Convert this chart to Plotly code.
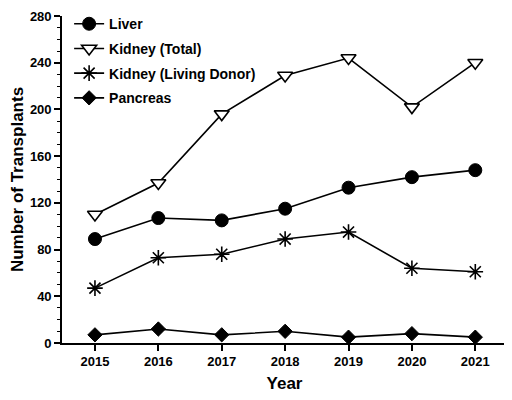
import plotly.graph_objects as go

years = [2015, 2016, 2017, 2018, 2019, 2020, 2021]
liver = [89, 107, 105, 115, 133, 142, 148]
kidney_total = [110, 137, 196, 229, 244, 202, 240]
kidney_living = [47, 73, 76, 89, 95, 64, 61]
pancreas = [7, 12, 7, 10, 5, 8, 5]
y_ticks = [0, 40, 80, 120, 160, 200, 240, 280]

FONT = "Liberation Sans, Arial, sans-serif"

fig = go.Figure()
series = [
    ("Liver", liver, dict(symbol="circle", size=13, color="black", line=dict(color="black", width=1))),
    ("Kidney (Total)", kidney_total, dict(symbol="triangle-down", size=13, color="white", line=dict(color="black", width=1.6))),
    ("Kidney (Living Donor)", kidney_living, dict(symbol="asterisk-open", size=13, color="black", line=dict(color="black", width=1.6))),
    ("Pancreas", pancreas, dict(symbol="diamond", size=11, color="black", line=dict(color="black", width=1))),
]
for i, (name, vals, mk) in enumerate(series):
    fig.add_trace(go.Scatter(
        x=years, y=vals, name=name, mode="lines+markers",
        line=dict(color="black", width=1.6), marker=mk,
        legendgroup=f"g{i}",
    ))

# page body has an 8px default margin; margins compensate for it
fig.update_layout(
    width=512, height=400,
    margin=dict(l=54, r=13, t=8, b=65, autoexpand=False),
    paper_bgcolor="white", plot_bgcolor="white",
    font=dict(family=FONT, color="black", size=13, weight="bold"),
    showlegend=True,
    legend=dict(x=0.016, y=1.024, xanchor="left", yanchor="top",
                bgcolor="rgba(0,0,0,0)", font=dict(size=14, weight="bold"),
                tracegroupgap=3.5),
    xaxis=dict(
        range=[2014.48, 2021.5], tickvals=years, ticktext=[str(y) for y in years],
        showline=True, linecolor="black", linewidth=1.6, ticks="outside",
        ticklen=6, tickwidth=1.6, tickcolor="black", showgrid=False, zeroline=False,
        tickfont=dict(size=13, weight="bold"), automargin=False,
        title=dict(text="Year", font=dict(size=17, weight="bold"), standoff=9),
    ),
    yaxis=dict(
        range=[0, 280], tickvals=y_ticks,
        showline=True, linecolor="black", linewidth=1.6, ticks="outside",
        ticklen=6, tickwidth=1.6, tickcolor="black", showgrid=False, zeroline=False,
        tickfont=dict(size=13, weight="bold"), automargin=False,
        minor=dict(dtick=10, ticks="outside", ticklen=3, tickwidth=1.3, tickcolor="black", showgrid=False),
        title=dict(text="Number of Transplants", font=dict(size=17, weight="bold"), standoff=6),
    ),
)

fig.write_html("out.html")
